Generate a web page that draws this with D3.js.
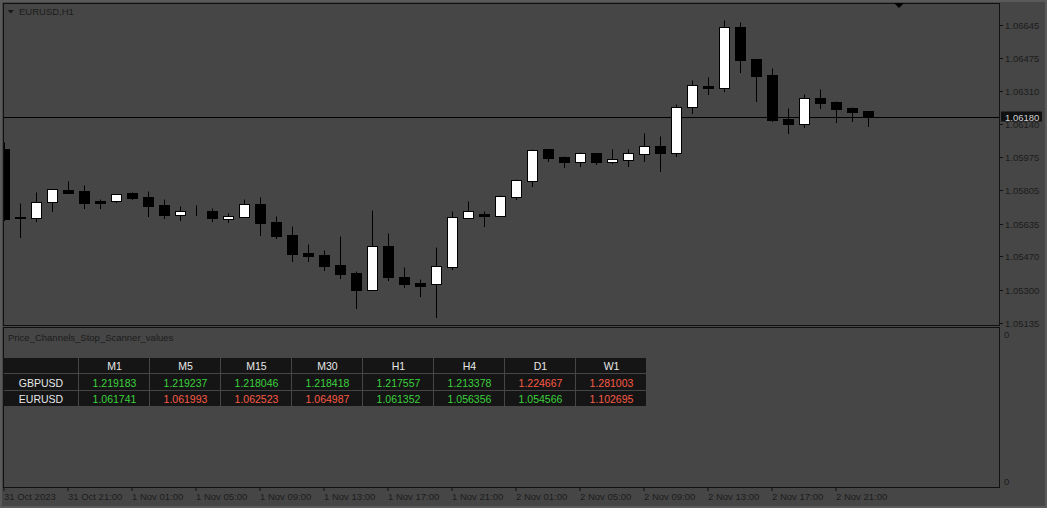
<!DOCTYPE html>
<html>
<head>
<meta charset="utf-8">
<script src="https://cdn.jsdelivr.net/npm/d3@7/dist/d3.min.js"></script>
<style>
    body { margin: 0; background: #464646; }
    svg { display: block; font-family: "Liberation Sans", Arial, sans-serif; }
</style>
</head>
<body>
<svg id="chart" width="1047" height="508"></svg>
<script>
// EURUSD H1 candles, first one is 31 Oct 2023 17:00
const opens = [1.06016, 1.05668, 1.05667, 1.05745, 1.05806, 1.05802, 1.05752, 1.05750, 1.05792, 1.05772,
    1.05731, 1.05682, 1.05701, 1.05701, 1.05662, 1.05672, 1.05736, 1.05645, 1.05579, 1.05488,
    1.05478, 1.05427, 1.05386, 1.05301, 1.05522, 1.05366, 1.05335, 1.05332, 1.05418, 1.05667,
    1.05686, 1.05677, 1.05773, 1.05855, 1.06016, 1.05973, 1.05951, 1.05994, 1.05951, 1.05961,
    1.05992, 1.06031, 1.05997, 1.06230, 1.06334, 1.06327, 1.06633, 1.06471, 1.06390, 1.06166,
    1.06144, 1.06273, 1.06253, 1.06224, 1.06207];
const highs = [1.06051, 1.05741, 1.05797, 1.05811, 1.05853, 1.05833, 1.05762, 1.05787, 1.05797, 1.05802,
    1.05762, 1.05726, 1.05731, 1.05716, 1.05691, 1.05762, 1.05772, 1.05676, 1.05625, 1.05533,
    1.05503, 1.05574, 1.05396, 1.05706, 1.05589, 1.05417, 1.05356, 1.05518, 1.05701, 1.05752,
    1.05701, 1.05782, 1.05862, 1.06016, 1.06018, 1.05980, 1.06000, 1.05995, 1.06016, 1.06016,
    1.06097, 1.06082, 1.06244, 1.06366, 1.06381, 1.06670, 1.06659, 1.06472, 1.06425, 1.06222,
    1.06295, 1.06320, 1.06258, 1.06227, 1.06208];
const lows = [1.05655, 1.05570, 1.05652, 1.05702, 1.05793, 1.05718, 1.05718, 1.05749, 1.05762, 1.05677,
    1.05665, 1.05657, 1.05682, 1.05652, 1.05647, 1.05671, 1.05581, 1.05565, 1.05449, 1.05449,
    1.05403, 1.05362, 1.05210, 1.05300, 1.05352, 1.05317, 1.05271, 1.05164, 1.05408, 1.05666,
    1.05626, 1.05676, 1.05763, 1.05829, 1.05956, 1.05926, 1.05931, 1.05941, 1.05946, 1.05931,
    1.05956, 1.05904, 1.05982, 1.06200, 1.06296, 1.06311, 1.06408, 1.06261, 1.06159, 1.06098,
    1.06129, 1.06225, 1.06154, 1.06159, 1.06134];
const closes = [1.05660, 1.05663, 1.05747, 1.05811, 1.05794, 1.05743, 1.05743, 1.05786, 1.05768, 1.05726,
    1.05682, 1.05701, 1.05700, 1.05667, 1.05676, 1.05736, 1.05640, 1.05574, 1.05484, 1.05474,
    1.05422, 1.05383, 1.05301, 1.05522, 1.05367, 1.05332, 1.05322, 1.05422, 1.05669, 1.05699,
    1.05677, 1.05776, 1.05857, 1.06009, 1.05971, 1.05951, 1.05994, 1.05951, 1.05963, 1.05994,
    1.06029, 1.05995, 1.06227, 1.06339, 1.06327, 1.06633, 1.06469, 1.06388, 1.06164, 1.06144,
    1.06273, 1.06251, 1.06220, 1.06205, 1.06180];

const lastPrice = 1.06180;
const priceTicks = [1.06645, 1.06475, 1.06310, 1.06140, 1.05975, 1.05805, 1.05635, 1.05470, 1.05300, 1.05135];
const timeTickIdx = [0, 4, 8, 12, 16, 20, 24, 28, 32, 36, 40, 44, 48, 52];
const timeLabels = ["31 Oct 2023", "31 Oct 21:00", "1 Nov 01:00", "1 Nov 05:00", "1 Nov 09:00", "1 Nov 13:00",
    "1 Nov 17:00", "1 Nov 21:00", "2 Nov 01:00", "2 Nov 05:00", "2 Nov 09:00", "2 Nov 13:00",
    "2 Nov 17:00", "2 Nov 21:00"];

// scanner table
const timeframes = ["M1", "M5", "M15", "M30", "H1", "H4", "D1", "W1"];
const symbols = ["GBPUSD", "EURUSD"];
const gbpValues = [1.219183, 1.219237, 1.218046, 1.218418, 1.217557, 1.213378, 1.224667, 1.281003];
const eurValues = [1.061741, 1.061993, 1.062523, 1.064987, 1.061352, 1.056356, 1.054566, 1.102695];
const gbpSignal = ["up", "up", "up", "up", "up", "up", "down", "down"];
const eurSignal = ["up", "down", "down", "down", "up", "up", "up", "down"];

const svg = d3.select('#chart');
const textCol = '#1c1c1c';

// outer window edge
svg.append('rect')
    .attr('x', 1).attr('y', 1).attr('width', 1045).attr('height', 506)
    .attr('fill', '#464646').attr('stroke', '#5a5a5a').attr('stroke-width', 2);

let candles = opens.map((o, i) => ({ i: i, o: o, h: highs[i], l: lows[i], c: closes[i] }));

let x = d3.scaleLinear().domain([0, candles.length - 1]).range([4.5, 4.5 + 16 * (candles.length - 1)]);
let y = d3.scaleLinear().domain([1.05135, 1.06645]).range([322.5, 25]);
let py = (v) => Math.round(y(v)) + 0.5;

// frames
svg.append('rect').attr('x', 3.5).attr('y', 3.5).attr('width', 996).attr('height', 322)
    .attr('fill', 'none').attr('stroke', '#111');
svg.append('rect').attr('x', 3.5).attr('y', 327.5).attr('width', 996).attr('height', 160)
    .attr('fill', 'none').attr('stroke', '#111');

svg.append('clipPath').attr('id', 'mainClip')
    .append('rect').attr('x', 4).attr('y', 4).attr('width', 995).attr('height', 321);

let plot = svg.append('g').attr('clip-path', 'url(#mainClip)');

// last price line
plot.append('line')
    .attr('x1', 4).attr('x2', 999)
    .attr('y1', py(lastPrice)).attr('y2', py(lastPrice))
    .attr('stroke', '#000');

let cg = plot.selectAll('g.candle')
    .data(candles)
    .enter()
    .append('g')
    .attr('class', 'candle');

cg.append('line')
    .attr('x1', d => x(d.i)).attr('x2', d => x(d.i))
    .attr('y1', d => py(d.h)).attr('y2', d => py(d.l) + 0.5)
    .attr('stroke', '#000');

cg.append('rect')
    .attr('x', d => x(d.i) - 5)
    .attr('width', 10)
    .attr('y', d => py(Math.max(d.o, d.c)))
    .attr('height', d => py(Math.min(d.o, d.c)) - py(Math.max(d.o, d.c)))
    .attr('fill', d => d.c > d.o ? '#fff' : '#000')
    .attr('stroke', '#000');

// shift marker at top
svg.append('path').attr('d', 'M894,3L904,3L899,8Z').attr('fill', '#000');

// title
svg.append('path').attr('d', 'M7.5,10L14,10L10.75,13.5Z').attr('fill', '#1a1a1a');
svg.append('text').attr('x', 19).attr('y', 15)
    .attr('font-size', 9.5).attr('fill', textCol).text('EURUSD,H1');

// price axis
let pAxis = svg.append('g');
pAxis.selectAll('line')
    .data(priceTicks)
    .enter()
    .append('line')
    .attr('x1', 1000).attr('x2', 1003)
    .attr('y1', d => py(d)).attr('y2', d => py(d))
    .attr('stroke', '#111');
pAxis.selectAll('text')
    .data(priceTicks)
    .enter()
    .append('text')
    .attr('x', 1005)
    .attr('y', d => py(d) + 3.5)
    .attr('font-size', 9.5)
    .attr('fill', textCol)
    .text(d => d.toFixed(5));

// current price tag
svg.append('rect').attr('x', 1001).attr('y', py(lastPrice) - 6).attr('width', 41).attr('height', 10)
    .attr('fill', '#111');
svg.append('text').attr('x', 1005).attr('y', py(lastPrice) + 3)
    .attr('font-size', 9.5).attr('fill', '#d0d0d0').text(lastPrice.toFixed(5));

// time axis
let tAxis = svg.append('g');
tAxis.selectAll('line')
    .data(timeTickIdx)
    .enter()
    .append('line')
    .attr('x1', d => x(d) - 0.5).attr('x2', d => x(d) - 0.5)
    .attr('y1', 487.5).attr('y2', 491)
    .attr('stroke', '#111');
tAxis.selectAll('text')
    .data(timeTickIdx)
    .enter()
    .append('text')
    .attr('x', d => x(d) - 0.5)
    .attr('y', 499.5)
    .attr('font-size', 9.5)
    .attr('fill', textCol)
    .text((d, k) => timeLabels[k]);

// sub window
svg.append('text').attr('x', 8).attr('y', 341)
    .attr('font-size', 9.5).attr('fill', textCol).text('Price_Channels_Stop_Scanner_values');
svg.append('text').attr('x', 1004).attr('y', 337.5)
    .attr('font-size', 9.5).attr('fill', textCol).text('0');
svg.append('text').attr('x', 1004).attr('y', 484.5)
    .attr('font-size', 9.5).attr('fill', textCol).text('0');

let colX = d3.scaleBand().domain(timeframes).range([79, 647]);
let rowY = d3.scaleBand().domain(['head'].concat(symbols)).range([358, 407]);
let table = svg.append('g');

let cells = [];
cells.push({ x: 3, w: 76, row: 'head', text: '', color: '#e8e8e8' });
timeframes.forEach(tf => cells.push({ x: colX(tf), w: colX.bandwidth(), row: 'head', text: tf, color: '#e8e8e8' }));
let rows = [[gbpValues, gbpSignal], [eurValues, eurSignal]];
symbols.forEach((s, r) => {
    cells.push({ x: 3, w: 76, row: s, text: s, color: '#e8e8e8' });
    timeframes.forEach((tf, k) => cells.push({
        x: colX(tf), w: colX.bandwidth(), row: s,
        text: rows[r][0][k].toFixed(6),
        color: rows[r][1][k] == 'up' ? '#3cd23c' : '#fa5a46'
    }));
});

table.selectAll('rect')
    .data(cells)
    .enter()
    .append('rect')
    .attr('x', d => Math.round(d.x))
    .attr('y', d => Math.round(rowY(d.row)))
    .attr('width', d => Math.round(d.x + d.w) - Math.round(d.x) - 1)
    .attr('height', d => Math.round(rowY(d.row) + rowY.bandwidth()) - Math.round(rowY(d.row)) - 1)
    .attr('fill', '#151515');

table.selectAll('text')
    .data(cells)
    .enter()
    .append('text')
    .attr('x', d => d.x + d.w / 2)
    .attr('y', d => rowY(d.row) + rowY.bandwidth() / 2 + 4)
    .attr('text-anchor', 'middle')
    .attr('font-size', 10.5)
    .attr('fill', d => d.color)
    .text(d => d.text);
</script>
</body>
</html>
